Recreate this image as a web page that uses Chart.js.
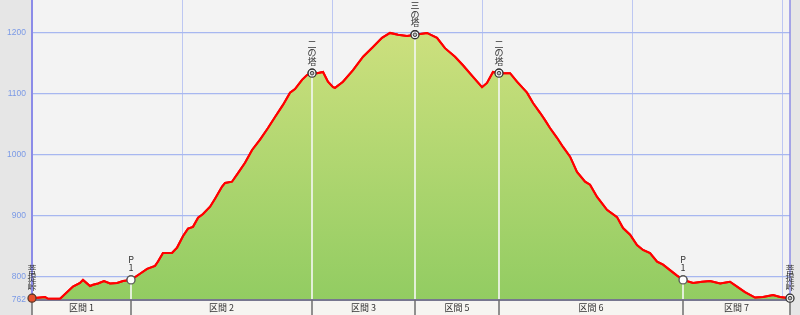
<!DOCTYPE html>
<html>
<head>
<meta charset="utf-8">
<script src="https://cdn.jsdelivr.net/npm/chart.js@4.4.1/dist/chart.umd.min.js"></script>
<style>
  html, body { margin: 0; padding: 0; background: #e6e6e6; }
  #wrap { width: 800px; height: 315px; }
</style>
</head>
<body>
<div id="wrap"><canvas id="profile" width="800" height="315"></canvas></div>
<script>
// distance (km) and elevation (m) of the route profile
var distKm = [0, 0.087, 0.107, 0.187, 0.273, 0.32, 0.34, 0.387, 0.407, 0.44, 0.48, 0.52, 0.567, 0.607, 0.66,
    0.72, 0.767, 0.82, 0.84, 0.873, 0.933, 0.967, 1.007, 1.04, 1.073, 1.107, 1.14, 1.187, 1.22, 1.267, 1.287,
    1.333, 1.373, 1.42, 1.467, 1.52, 1.573, 1.62, 1.673, 1.72, 1.753, 1.8, 1.833, 1.867, 1.9, 1.94, 1.973,
    2.007, 2.02, 2.073, 2.14, 2.207, 2.273, 2.333, 2.387, 2.44, 2.5, 2.553, 2.633, 2.7, 2.753, 2.82, 2.873,
    2.94, 3.0, 3.033, 3.073, 3.113, 3.187, 3.233, 3.3, 3.34, 3.387, 3.42, 3.453, 3.5, 3.54, 3.587, 3.633,
    3.687, 3.72, 3.767, 3.833, 3.9, 3.94, 3.987, 4.033, 4.073, 4.12, 4.167, 4.207, 4.253, 4.3, 4.34,
    4.407, 4.467, 4.52, 4.587, 4.653, 4.7, 4.753, 4.82, 4.873, 4.94, 4.987, 5.053];
var elevM = [765, 767, 764, 764, 784, 790, 795, 785, 787, 789, 793, 789, 790, 793, 795,
    805, 813, 818, 825, 839, 839, 848, 867, 879, 882, 897, 903, 915, 928, 948, 954,
    956, 970, 987, 1008, 1025, 1044, 1062, 1082, 1102, 1108, 1123, 1131, 1134, 1134, 1136, 1120,
    1111, 1110, 1120, 1139, 1161, 1177, 1192, 1200, 1197, 1195, 1197, 1200, 1192, 1175, 1161, 1147,
    1128, 1111, 1118, 1136, 1134, 1134, 1120, 1102, 1085, 1069, 1057, 1044, 1028, 1013, 997, 972,
    956, 951, 931, 910, 898, 880, 869, 852, 844, 839, 825, 820, 811, 802, 795,
    790, 792, 793, 789, 792, 784, 775, 766, 767, 770, 767, 765];

var yTicks = [762, 800, 900, 1000, 1100, 1200];
var xTicks = [0, 1, 2, 3, 4, 5];

// waypoints along the route
var wpNames = ['菩提峠', 'P1', '二の塔', '三の塔', '二の塔', 'P1', '菩提峠'];
var wpKm = [0, 0.66, 1.867, 2.553, 3.113, 4.34, 5.053];
var wpElev = [765, 795, 1134, 1197, 1134, 795, 765];

// sections between waypoints
var sectionNames = ['区間 1', '区間 2', '区間 3', '区間 5', '区間 6', '区間 7'];
var sectionBounds = [0, 0.66, 1.867, 2.553, 3.113, 4.34, 5.053];

var Y_MIN = 762, Y_MAX = 1254;

function labelChars(name) {
    if (/^[A-Za-z]\d$/.test(name)) return name.split('');
    return Array.from(name);
}

var profilePlugin = {
    id: 'profileDecor',
    beforeDraw: function (chart) {
        var ctx = chart.ctx, a = chart.chartArea;
        ctx.save();
        ctx.fillStyle = '#e6e6e6';
        ctx.fillRect(0, 0, chart.width, chart.height);
        ctx.fillStyle = '#f3f3f3';
        ctx.fillRect(a.left, a.top, a.right - a.left, a.bottom - a.top);
        ctx.restore();
    },
    afterDraw: function (chart) {
        var ctx = chart.ctx, a = chart.chartArea;
        var xs = chart.scales.x, ys = chart.scales.y;
        var i;

        ctx.save();
        // section band under the plot
        ctx.fillStyle = '#f6f5f1';
        ctx.fillRect(a.left, a.bottom, a.right - a.left, chart.height - a.bottom);
        ctx.strokeStyle = '#77778f';
        ctx.lineWidth = 2;
        ctx.beginPath();
        ctx.moveTo(a.left, a.bottom);
        ctx.lineTo(a.right, a.bottom);
        ctx.stroke();
        ctx.strokeStyle = '#6e6e6e';
        ctx.lineWidth = 1.5;
        for (i = 0; i < sectionBounds.length; i++) {
            var bx = Math.round(xs.getPixelForValue(sectionBounds[i]));
            ctx.beginPath();
            ctx.moveTo(bx, a.bottom);
            ctx.lineTo(bx, chart.height);
            ctx.stroke();
        }
        ctx.fillStyle = '#333';
        ctx.font = '9px "Noto Sans CJK JP", sans-serif';
        ctx.textAlign = 'center';
        ctx.textBaseline = 'middle';
        for (i = 0; i < sectionNames.length; i++) {
            var cx = (xs.getPixelForValue(sectionBounds[i]) + xs.getPixelForValue(sectionBounds[i + 1])) / 2;
            ctx.fillText(sectionNames[i], cx, a.bottom + 8);
        }

        // right border of the plot
        ctx.strokeStyle = '#8c8ce6';
        ctx.lineWidth = 1.5;
        ctx.beginPath();
        ctx.moveTo(a.right, a.top);
        ctx.lineTo(a.right, a.bottom);
        ctx.stroke();

        // waypoint drop lines
        ctx.beginPath();
        ctx.rect(a.left, a.top, a.right - a.left, a.bottom - a.top);
        ctx.clip();
        ctx.strokeStyle = 'rgba(240, 244, 236, 0.85)';
        ctx.lineWidth = 2;
        for (i = 1; i < wpKm.length - 1; i++) {
            var px = Math.round(xs.getPixelForValue(wpKm[i]));
            ctx.beginPath();
            ctx.moveTo(px, ys.getPixelForValue(wpElev[i]));
            ctx.lineTo(px, a.bottom - 1);
            ctx.stroke();
        }
        // profile line on top of the grid
        chart.getDatasetMeta(0).dataset.draw(ctx, a);
        ctx.restore();

        // markers on top
        ctx.save();
        chart.getDatasetMeta(1).data.forEach(function (p) { p.draw(ctx); });
        chart.getDatasetMeta(2).data.forEach(function (p) { p.draw(ctx); });

        // vertical waypoint labels
        ctx.fillStyle = '#333';
        ctx.font = '9px "Noto Sans CJK JP", sans-serif';
        ctx.textAlign = 'center';
        ctx.textBaseline = 'middle';
        for (i = 0; i < wpNames.length; i++) {
            var chars = labelChars(wpNames[i]);
            var lx = xs.getPixelForValue(wpKm[i]);
            var ly = ys.getPixelForValue(wpElev[i]) - 12;
            for (var k = chars.length - 1; k >= 0; k--) {
                ctx.fillText(chars[k], lx, ly - (chars.length - 1 - k) * 8.5);
            }
        }
        ctx.restore();
    }
};

var wpPoints = wpKm.map(function (d, i) { return { x: d, y: wpElev[i] }; });

new Chart(document.getElementById('profile'), {
    type: 'line',
    data: {
        datasets: [
            {
                data: distKm.map(function (d, i) { return { x: d, y: elevM[i] }; }),
                borderColor: '#ff0000',
                borderWidth: 2,
                tension: 0,
                pointRadius: 0,
                fill: 'start',
                backgroundColor: function (c) {
                    var a = c.chart.chartArea;
                    if (!a) return '#a8d46c';
                    var g = c.chart.ctx.createLinearGradient(0, a.top + 30, 0, a.bottom);
                    g.addColorStop(0, '#cde07e');
                    g.addColorStop(1, '#92cc62');
                    return g;
                },
            },
            {
                type: 'scatter',
                data: wpPoints,
                pointRadius: 4,
                pointBorderWidth: 1.3,
                pointBackgroundColor: ['#e8502c', '#ffffff', '#f4f4f4', '#f4f4f4', '#f4f4f4', '#ffffff', '#f4f4f4'],
                pointBorderColor: ['#5a3a2a', '#555555', '#333333', '#333333', '#333333', '#555555', '#333333'],
            },
            {
                type: 'scatter',
                data: wpPoints,
                pointRadius: [0, 0, 1.8, 1.8, 1.8, 0, 1.8],
                pointBorderWidth: 1,
                pointBackgroundColor: '#bbbbbb',
                pointBorderColor: '#444444',
            },
        ],
    },
    options: {
        responsive: false,
        animation: false,
        devicePixelRatio: 1,
        layout: { autoPadding: false, padding: { top: 0, right: 10, bottom: 0, left: 0 } },
        plugins: { legend: { display: false }, tooltip: { enabled: false } },
        scales: {
            x: {
                type: 'linear',
                min: 0,
                max: 5.053,
                z: 1,
                afterBuildTicks: function (s) { s.ticks = xTicks.map(function (v) { return { value: v }; }); },
                afterFit: function (s) { s.height = 15; s.paddingLeft = 0; s.paddingRight = 0; },
                ticks: { display: false },
                border: { display: false },
                grid: {
                    drawTicks: false,
                    color: function (c) { return c.tick && c.tick.value === 0 ? 'rgba(0,0,0,0)' : '#bdc7f2'; },
                    lineWidth: 1,
                },
            },
            y: {
                min: Y_MIN,
                max: Y_MAX,
                z: 1,
                afterBuildTicks: function (s) { s.ticks = yTicks.map(function (v) { return { value: v }; }); },
                afterFit: function (s) { s.width = 32; s.paddingTop = 0; s.paddingBottom = 0; },
                ticks: {
                    color: '#7b9ae6',
                    font: { family: 'Liberation Sans, Arial, sans-serif', size: 8.5 },
                    padding: 6,
                    callback: function (v) { return String(v); },
                },
                border: { display: true, color: '#8b8be8', width: 2 },
                grid: {
                    drawTicks: false,
                    color: function (c) { return c.tick && c.tick.value === 762 ? 'rgba(0,0,0,0)' : '#a7b7f0'; },
                    lineWidth: 1.3,
                },
            },
        },
    },
    plugins: [profilePlugin],
});
</script>
</body>
</html>
